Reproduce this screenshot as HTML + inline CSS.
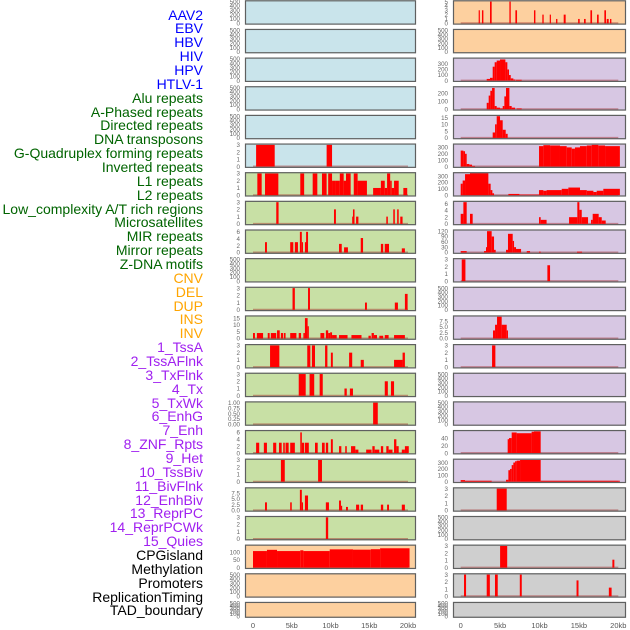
<!DOCTYPE html>
<html><head><meta charset="utf-8">
<style>
html,body{margin:0;padding:0;background:#fff;}
#wrap{position:relative;width:630px;height:630px;overflow:hidden;}
.lab{position:absolute;right:427px;font-family:"Liberation Sans",sans-serif;font-size:14px;line-height:14px;white-space:nowrap;}
svg{position:absolute;left:0;top:0;}
</style></head>
<body>
<div id="wrap">
<svg id="svg" width="630" height="630"></svg>
</div>
<script>
// ---- data ----
const trackLabels = ["AAV2","EBV","HBV","HIV","HPV","HTLV-1","Alu repeats","A-Phased repeats","Directed repeats","DNA transposons","G-Quadruplex forming repeats","Inverted repeats","L1 repeats","L2 repeats","Low_complexity A/T rich regions","Microsatellites","MIR repeats","Mirror repeats","Z-DNA motifs","CNV","DEL","DUP","INS","INV","1_TssA","2_TssAFlnk","3_TxFlnk","4_Tx","5_TxWk","6_EnhG","7_Enh","8_ZNF_Rpts","9_Het","10_TssBiv","11_BivFlnk","12_EnhBiv","13_ReprPC","14_ReprPCWk","15_Quies","CPGisland","Methylation","Promoters","ReplicationTiming","TAD_boundary"];
const labelGroups = [6,13,5,15,5];
const groupColors = ["#0000ff","#006400","#ffa500","#a020f0","#000000"];

const E = [0,100,200,300,400,500];
const leftBg = ["b","b","b","b","b","b","g","g","g","g","g","g","g","g","g","g","g","g","g","o","o","o"];
const rightBg = ["o","o","p","p","p","p","p","p","p","p","p","p","p","p","p","p","p","y","y","y","y","y"];
const leftMax = [500,500,500,500,500,3,3,3,6.3,500,3,16,3,3,1,6.3,3,9.5,3,140,500,500];
const rightMax = [5,500,390,270,16,340,340,6.5,122,3,500,9.5,3,500,500,58,340,3,500,3,3,500];
const leftTicks = [E,E,E,E,E,[0,1,2,3],[0,1,2,3],[0,1,2,3],[0,2,4,6],E,[0,1,2,3],[0,5,10,15],[0,1,2,3],[0,1,2,3],
 [0,0.25,0.5,0.75,1],[0,2,4,6],[0,1,2,3],[0,2.5,5,7.5],[0,1,2,3],[0,50,100],E,E];
const rightTicks = [[0,1,2,3,4,5],E,[0,100,200,300],[0,100,200],[0,5,10,15],[0,100,200,300],[0,100,200,300],[0,2,4,6],
 [0,30,60,90,120],[0,1,2,3],E,[0,2.5,5,7.5],[0,1,2,3],E,E,[0,20,40],[0,100,200,300],[0,1,2,3],E,[0,1,2,3],[0,1,2,3],E];
const leftTickDigits = [0,0,0,0,0,0,0,0,0,0,0,0,0,0,2,0,0,1,0,0,0,0];
const rightTickDigits = [0,0,0,0,0,0,0,0,0,0,0,1,0,0,0,0,0,0,0,0,0,0];

const leftSegs = [[],[],[],[],[],
 [[0.4,2.8,3],[9.5,10.2,3]],
 [[0.56,1.12,3],[1.55,3.27,3],[6.1,6.6,3],[7.7,8.3,3],[8.9,9.5,3],[9.7,10.2,3],[10.2,10.7,2],[10.7,11.2,2],[11.2,11.7,3],[11.7,12.0,2],[12.0,12.6,3],[13.0,13.5,3],[13.5,14.7,2],[15.5,16.5,1],[16.5,17.0,2],[17.0,17.3,1],[17.3,17.7,3],[17.7,17.9,2],[17.9,18.2,1],[18.2,18.8,2],[19.4,19.9,1]],
 [[3.0,3.3,3],[10.45,10.7,2],[12.8,13.0,1],[12.9,13.1,2],[13.3,13.6,1],[17.2,17.4,1],[18.1,18.3,2],[18.6,18.8,2],[19.0,19.3,1]],
 [[1.55,1.8,3],[4.8,5.2,3],[5.4,5.8,3],[6.05,6.3,6],[6.3,6.45,3],[6.7,7.0,3],[6.85,7.1,6],[11.1,11.45,2.5],[11.75,12.25,1.5],[13.9,14.2,4.2],[16.5,16.8,2.5],[17.0,17.55,2.5],[19.2,19.6,1.2]],
 [],
 [[5.1,5.4,3],[7.1,7.35,3],[14.45,14.7,1],[18.3,18.7,1],[19.6,19.95,2.2]],
 [[0,0.25,4],[0.5,1.3,4],[1.9,2.15,4],[2.3,3.0,4],[3.1,3.45,6],[3.6,3.9,4],[4.0,4.2,4],[4.8,5.6,4],[5.9,6.2,4],[6.5,6.7,4],[6.7,7.05,15],[7.05,7.2,9],[8.7,9.2,4],[9.4,9.7,6],[9.7,9.95,4],[9.95,10.2,4.5],[10.2,10.8,2.5],[11.1,12.2,2.5],[12.7,14.0,2.5],[14.9,15.2,2],[15.3,15.6,4],[15.6,16.0,2.5],[16.3,16.8,2],[17.0,17.5,2.5],[18.2,19.6,2.5]],
 [[2.2,3.4,3],[7.0,7.4,3],[7.6,8.0,3],[9.3,9.6,3],[10.05,10.3,2],[12.4,12.8,2],[13.9,14.3,1],[18.2,19.3,1],[19.3,19.6,2]],
 [[5.9,6.8,3],[7.3,7.9,3],[8.6,9.0,3],[11.8,12.1,1],[12.5,12.9,1],[17.0,17.4,2],[17.8,18.2,2]],
 [[15.5,16.1,1]],
 [[0.4,0.8,3],[1.4,1.8,3],[2.6,3.0,3],[3.35,3.7,3],[3.9,4.1,3],[4.2,4.6,3],[4.8,5.4,3],[6.1,6.3,6],[6.3,6.6,3],[6.7,7.2,3],[8.0,8.35,3],[8.9,9.25,3],[9.4,9.7,3],[10.05,10.3,4],[11.1,11.4,2],[11.9,12.1,2],[12.65,12.9,2],[12.9,13.2,2],[13.2,13.6,1],[14.6,15.3,1],[15.4,15.7,2],[15.7,16.3,1],[16.5,16.8,2],[17.2,17.5,2],[17.5,18.0,1],[18.2,18.5,4],[18.5,18.8,2],[19.2,19.6,1],[19.6,20.1,2]],
 [[3.6,4.1,3],[8.4,8.9,3]],
 [[1.55,1.8,3.5],[4.8,5.0,3.5],[6.05,6.3,9],[6.3,6.45,3.5],[6.7,7.1,6.5],[9.4,9.8,3.5],[11.1,11.35,4.3],[11.35,11.5,2],[12.0,12.25,1.5],[13.3,13.7,2.5],[13.9,14.2,2.5],[16.5,16.8,2.5],[17.3,17.55,2.5],[19.2,19.6,2.5]],
 [[9.4,9.7,3]],
 [[0,1.8,107],[1.8,3.1,115],[3.1,6.1,107],[6.1,6.5,112],[6.5,9.9,107],[9.9,12.9,118],[12.9,15.2,116],[15.2,16.4,119],[16.4,20.2,125]],
 [],[]];

const rightSegs = [
 [[2.28,2.41,3],[2.7,2.88,3],[3.72,3.93,5],[6.18,6.35,5],[6.94,7.15,3],[9.3,9.48,3],[10.36,10.53,2],[11.3,11.42,2],[12.1,12.27,1],[13.07,13.32,2],[14.9,15.1,1],[15.65,15.86,1],[16.46,16.67,3],[17.3,17.51,2],[18.23,18.44,3],[18.53,18.78,1],[18.95,19.12,1]],
 [],
 [[3.3,3.72,30],[3.72,4.06,50],[4.06,4.31,250],[4.31,4.57,330],[4.57,4.99,360],[4.99,5.67,380],[5.67,5.92,330],[5.92,6.13,200],[6.13,6.35,100],[6.35,6.68,40],[6.68,6.94,20],[7.02,7.74,15]],
 [[3.3,3.55,80],[3.55,3.76,170],[3.76,3.98,230],[3.98,4.31,265],[4.31,4.57,40],[4.57,4.99,20],[4.99,5.33,10],[5.33,5.54,40],[5.54,5.75,160],[5.75,6.18,265],[6.18,6.47,40],[6.47,6.9,20],[7.1,7.74,10]],
 [[4.06,4.36,4],[4.36,4.57,10],[4.57,4.99,16],[4.99,5.33,13],[5.33,5.71,6],[5.71,5.96,3]],
 [[0,0.34,250],[0.34,0.55,240],[0.55,0.76,200],[0.76,1.1,40],[1.1,1.44,30],[1.44,1.82,10],[9.94,10.49,320],[10.49,11.34,335],[11.34,12.6,330],[12.6,13.45,320],[13.45,14.09,300],[14.09,14.5,280],[14.5,15.14,300],[15.14,16.0,320],[16.0,16.62,330],[16.62,17.47,340],[17.47,18.32,330],[18.32,20.2,320]],
 [[0,0.25,180],[0.25,0.55,230],[0.55,1.18,330],[1.18,3.51,345],[3.51,3.8,180],[3.8,4.02,80],[4.02,4.23,30],[6.05,7.45,20],[7.45,9.94,10],[9.94,10.49,80],[10.49,10.9,70],[10.9,12.82,80],[12.82,13.66,100],[13.66,15.14,120],[15.14,16.0,80],[16.0,16.84,70],[16.84,17.26,50],[17.26,18.1,70],[18.1,20.2,100]],
 [[0,0.34,3],[0.34,0.76,6.5],[1.18,1.52,3],[9.94,10.15,2],[10.15,10.9,1.2],[13.75,14.8,2],[14.8,15.06,6.5],[15.06,15.36,4.2],[15.36,16.16,2],[16.54,16.75,1.2],[16.75,17.51,3],[17.51,17.9,2],[17.9,18.4,1]],
 [[0,0.76,8],[2.96,3.21,8],[3.21,3.34,30],[3.34,3.93,120],[3.93,4.23,90],[4.23,4.44,15],[5.75,6.0,15],[6.0,6.6,105],[6.6,6.77,65],[6.77,7.02,30],[7.02,7.66,20],[8.38,8.8,8],[9.94,10.15,5],[14.76,15.4,5]],
 [[0.13,0.6,3],[11.0,11.34,2.2]],
 [],
 [[4.1,4.36,3.5],[4.36,4.61,6],[4.61,5.2,9.5],[5.2,5.84,6],[5.84,6.0,3.5]],
 [[3.98,4.4,3]],
 [],[],
 [[5.96,6.13,37],[6.13,6.47,40],[6.47,7.1,55],[7.1,9.0,53],[9.0,9.3,57],[9.3,10.15,58]],
 [[0,0.55,25],[0.55,3.93,15],[5.75,6.05,30],[6.05,6.26,180],[6.26,6.47,200],[6.47,6.68,260],[6.68,6.9,300],[6.9,7.1,320],[7.1,7.53,330],[7.53,10.15,340],[10.15,20.2,15]],
 [[4.57,5.84,3]],
 [],
 [[5.0,5.9,3],[19.25,19.5,1.1]],
 [[0.42,0.68,3],[3.3,3.7,3],[4.35,4.7,3],[7.5,7.75,3],[14.7,14.95,2.2],[18.8,19.15,1.2]],
 []];

const xTickKb = [0,5,10,15,20];
const xTickLabels = ["0","5kb","10kb","15kb","20kb"];

// ---- rendering ----
const NS = "http://www.w3.org/2000/svg";
const svg = document.getElementById("svg");
const bgColors = {b:"#c9e4eb",g:"#c8e0a5",o:"#fdd09f",p:"#d7c7e3",y:"#cfcfcf"};
const cols = [
  {x0:245,x1:416,z:253,k:7.75,segs:leftSegs,max:leftMax,ticks:leftTicks,dig:leftTickDigits,bg:leftBg,tx:240,name:"left"},
  {x0:453,x1:626,z:460.7,k:7.88,segs:rightSegs,max:rightMax,ticks:rightTicks,dig:rightTickDigits,bg:rightBg,tx:448,name:"right"}
];
function mk(tag, attrs, parent){const e=document.createElementNS(NS,tag);for(const k in attrs)e.setAttribute(k,attrs[k]);(parent||svg).appendChild(e);return e;}

cols.forEach((c)=>{
  const xs = kb => c.z + kb*c.k;
  for(let i=0;i<22;i++){
    const top = 0.3 + i*28.65;
    const h = i===21 ? 15.8 : 24.3;
    const bot = top + h;
    const ys = v => (bot-1.3) - v/c.max[i]*(h-2.6);
    const g = mk("g",{});
    
    
    const bg = mk("rect",{x:c.x0,y:top,width:c.x1-c.x0,height:h,fill:bgColors[c.bg[i]]},g);
    
    
    if(c.segs[i].length){
      const bl = mk("line",{x1:xs(0),x2:xs(20),y1:bot-1.3,y2:bot-1.3,stroke:"rgba(160,40,40,0.45)","stroke-width":2},g);
      
      
    }
    c.segs[i].forEach(s=>{
      const x1 = xs(s[0]), x2 = Math.min(xs(s[1]), c.x1-1);
      const w = Math.max(x2-x1,1.2);
      const r = mk("rect",{x:x1,y:ys(s[2]),width:w,height:(bot-1.3)-ys(s[2]),fill:"#ff0000"},g);
      
      
    });
    const fr = mk("rect",{x:c.x0+0.5,y:top+0.5,width:c.x1-c.x0-1,height:h-1,fill:"none",stroke:"#5f6060","stroke-width":1.2},g);
    
    
    c.ticks[i].forEach(t=>{
      const tl = mk("text",{x:c.tx,y:ys(t)+2.2,"text-anchor":"end","font-family":"Liberation Sans, sans-serif","font-size":"6.2",fill:"#666"},g);
      tl.textContent = t.toFixed(c.dig[i]);
      
      
    });
  }
  xTickKb.forEach((kb,j)=>{
    const t = mk("text",{x:xs(kb),y:628,"text-anchor":"middle","font-family":"Liberation Sans, sans-serif","font-size":"7.5",fill:"#555"});
    t.textContent = xTickLabels[j];
    
    
  });
});

// track labels
const wrap = document.getElementById("wrap");
let gi=0, cnt=0;
trackLabels.forEach((name,i)=>{
  if(cnt>=labelGroups[gi]){gi++;cnt=0;}
  cnt++;
  const d = document.createElement("div");
  d.className="lab";
  d.style.top = (15 + i*13.86 - 7.5)+"px";
  d.style.color = groupColors[gi];
  d.textContent = name;
  
  
  wrap.appendChild(d);
});
</script>
</body></html>
